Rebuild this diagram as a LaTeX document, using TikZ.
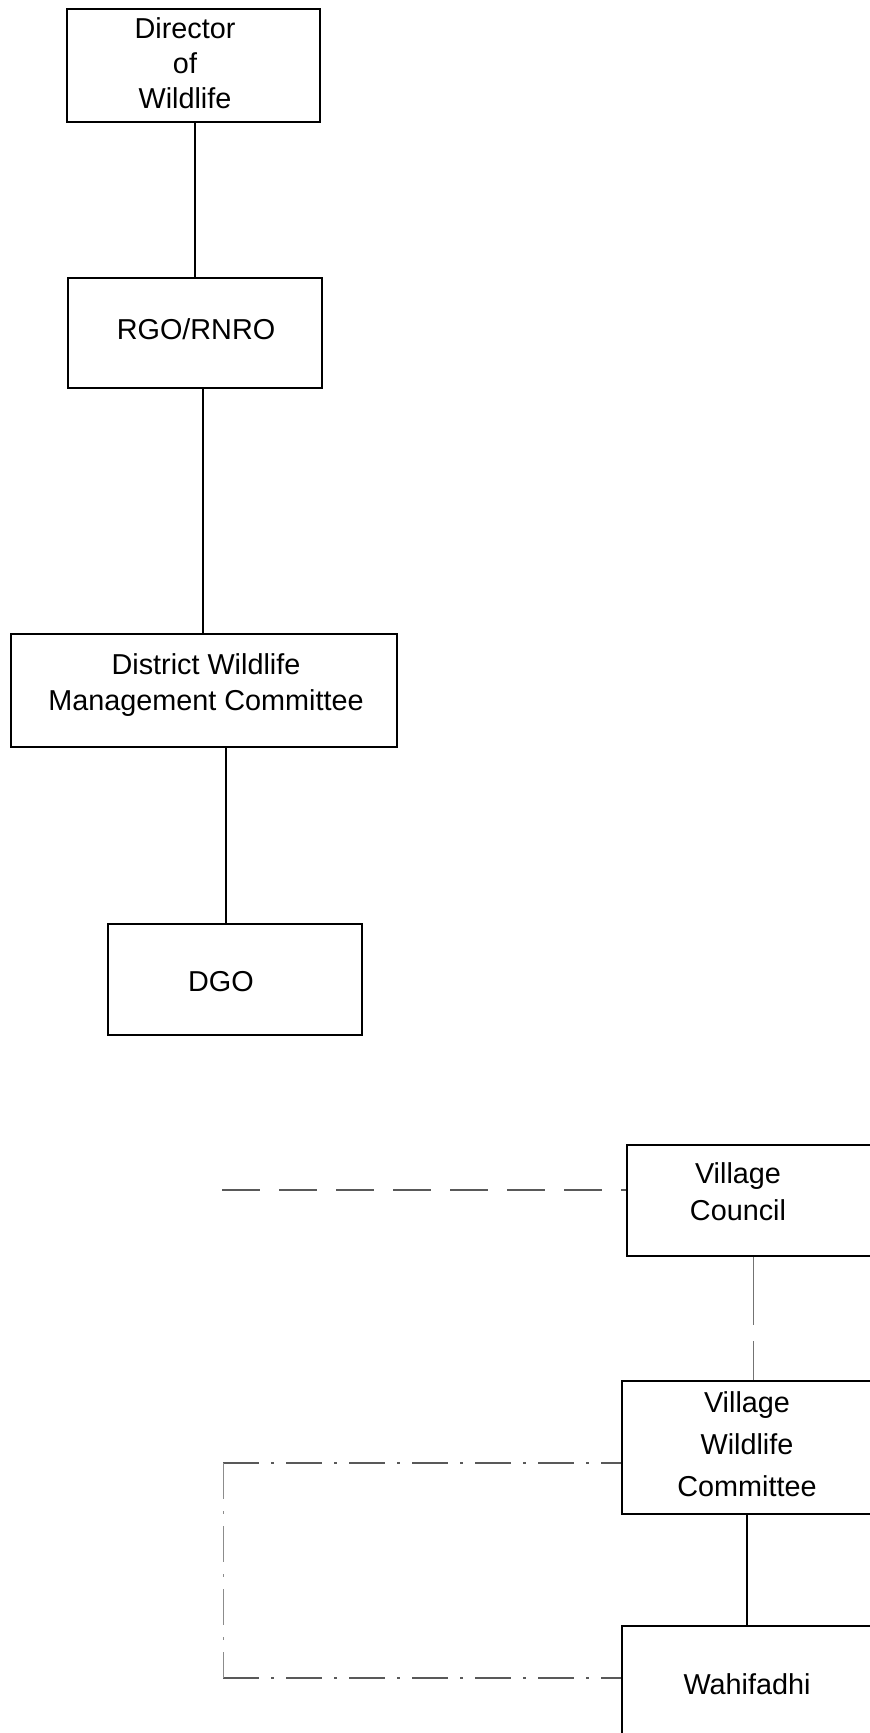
\documentclass[tikz,border=0pt]{standalone}
\usepackage{fontspec}
\setmainfont{Liberation Sans}
\usetikzlibrary{fit,calc}
\begin{document}
\begin{tikzpicture}[x=0.5pt,y=-0.5pt,
  box/.style={draw=black,line width=1pt,inner sep=0pt,rectangle},
  lbl/.style={align=center,inner sep=0pt,font=\fontsize{14.4}{17.5}\selectfont},
  link/.style={draw=black,line width=0.7pt},
  longdash/.style={draw=black!65,line width=0.7pt,dash pattern=on 19pt off 9.5pt},
  dashdot/.style={draw=black!65,line width=0.7pt,dash pattern=on 18pt off 6pt on 1.5pt off 6pt},
  sparse/.style={draw=black!55,line width=0.5pt,dash pattern=on 34pt off 8pt}]
\useasboundingbox (0,0) rectangle (869,1733);

% boxes of the hierarchy
\node[box,fit={(67,9)(320,122)}] (dir) {};
\node[box,fit={(68,278)(322,388)}] (rgo) {};
\node[box,fit={(11,634)(397,747)}] (dwmc) {};
\node[box,fit={(108,924)(362,1035)}] (dgo) {};
\node[box,fit={(627,1145)(900,1256)}] (vc) {};
\node[box,fit={(622,1381)(900,1514)}] (vwc) {};
\node[box,fit={(622,1626)(900,1770)}] (wah) {};

% labels
\node[lbl] (tdir) at (185,63) {Director\\of\\Wildlife};
\node[lbl] (trgo) at (196,329) {RGO/RNRO};
\node[lbl,font=\fontsize{14.4}{18}\selectfont] (tdwmc) at (206,685) {District Wildlife\\Management Committee};
\node[lbl] (tdgo) at (221,982) {DGO};
\node[lbl,font=\fontsize{14.4}{18.5}\selectfont] (tvc) at (738,1192) {Village\\Council};
\node[lbl,font=\fontsize{14.4}{21}\selectfont] (tvwc) at (747,1444) {Village\\Wildlife\\Committee};
\node[lbl] (twah) at (747,1684) {Wahifadhi};

% solid links
\coordinate (u1) at ([xshift=0.75pt]dir.south);
\draw[link] (u1) -- (u1 |- rgo.north);
\coordinate (r1) at ([xshift=4pt]rgo.south);
\draw[link] (r1) -- (r1 |- dwmc.north);
\coordinate (d1) at ([xshift=11pt]dwmc.south);
\draw[link] (d1) -- (d1 |- dgo.north);
\coordinate (v2) at ([xshift=-7pt]vwc.south);
\draw[link] (v2) -- (v2 |- wah.north);

% dashed links
\coordinate (v1) at ([xshift=-5.25pt]vc.south);
\draw[sparse] (v1) -- (v1 |- vwc.north);
\coordinate (L1) at (222,1190);
\coordinate (L2) at (223,1463);
\coordinate (L3) at (223,1678);
\draw[longdash] (L1) -- (L1 -| vc.west);
\draw[dashdot] (L2) -- (L2 -| vwc.west);
\draw[dashdot] (L3) -- (L3 -| wah.west);
\draw[dashdot,draw=black!45,line width=0.5pt] (L2) -- (L3);
\end{tikzpicture}
\end{document}
